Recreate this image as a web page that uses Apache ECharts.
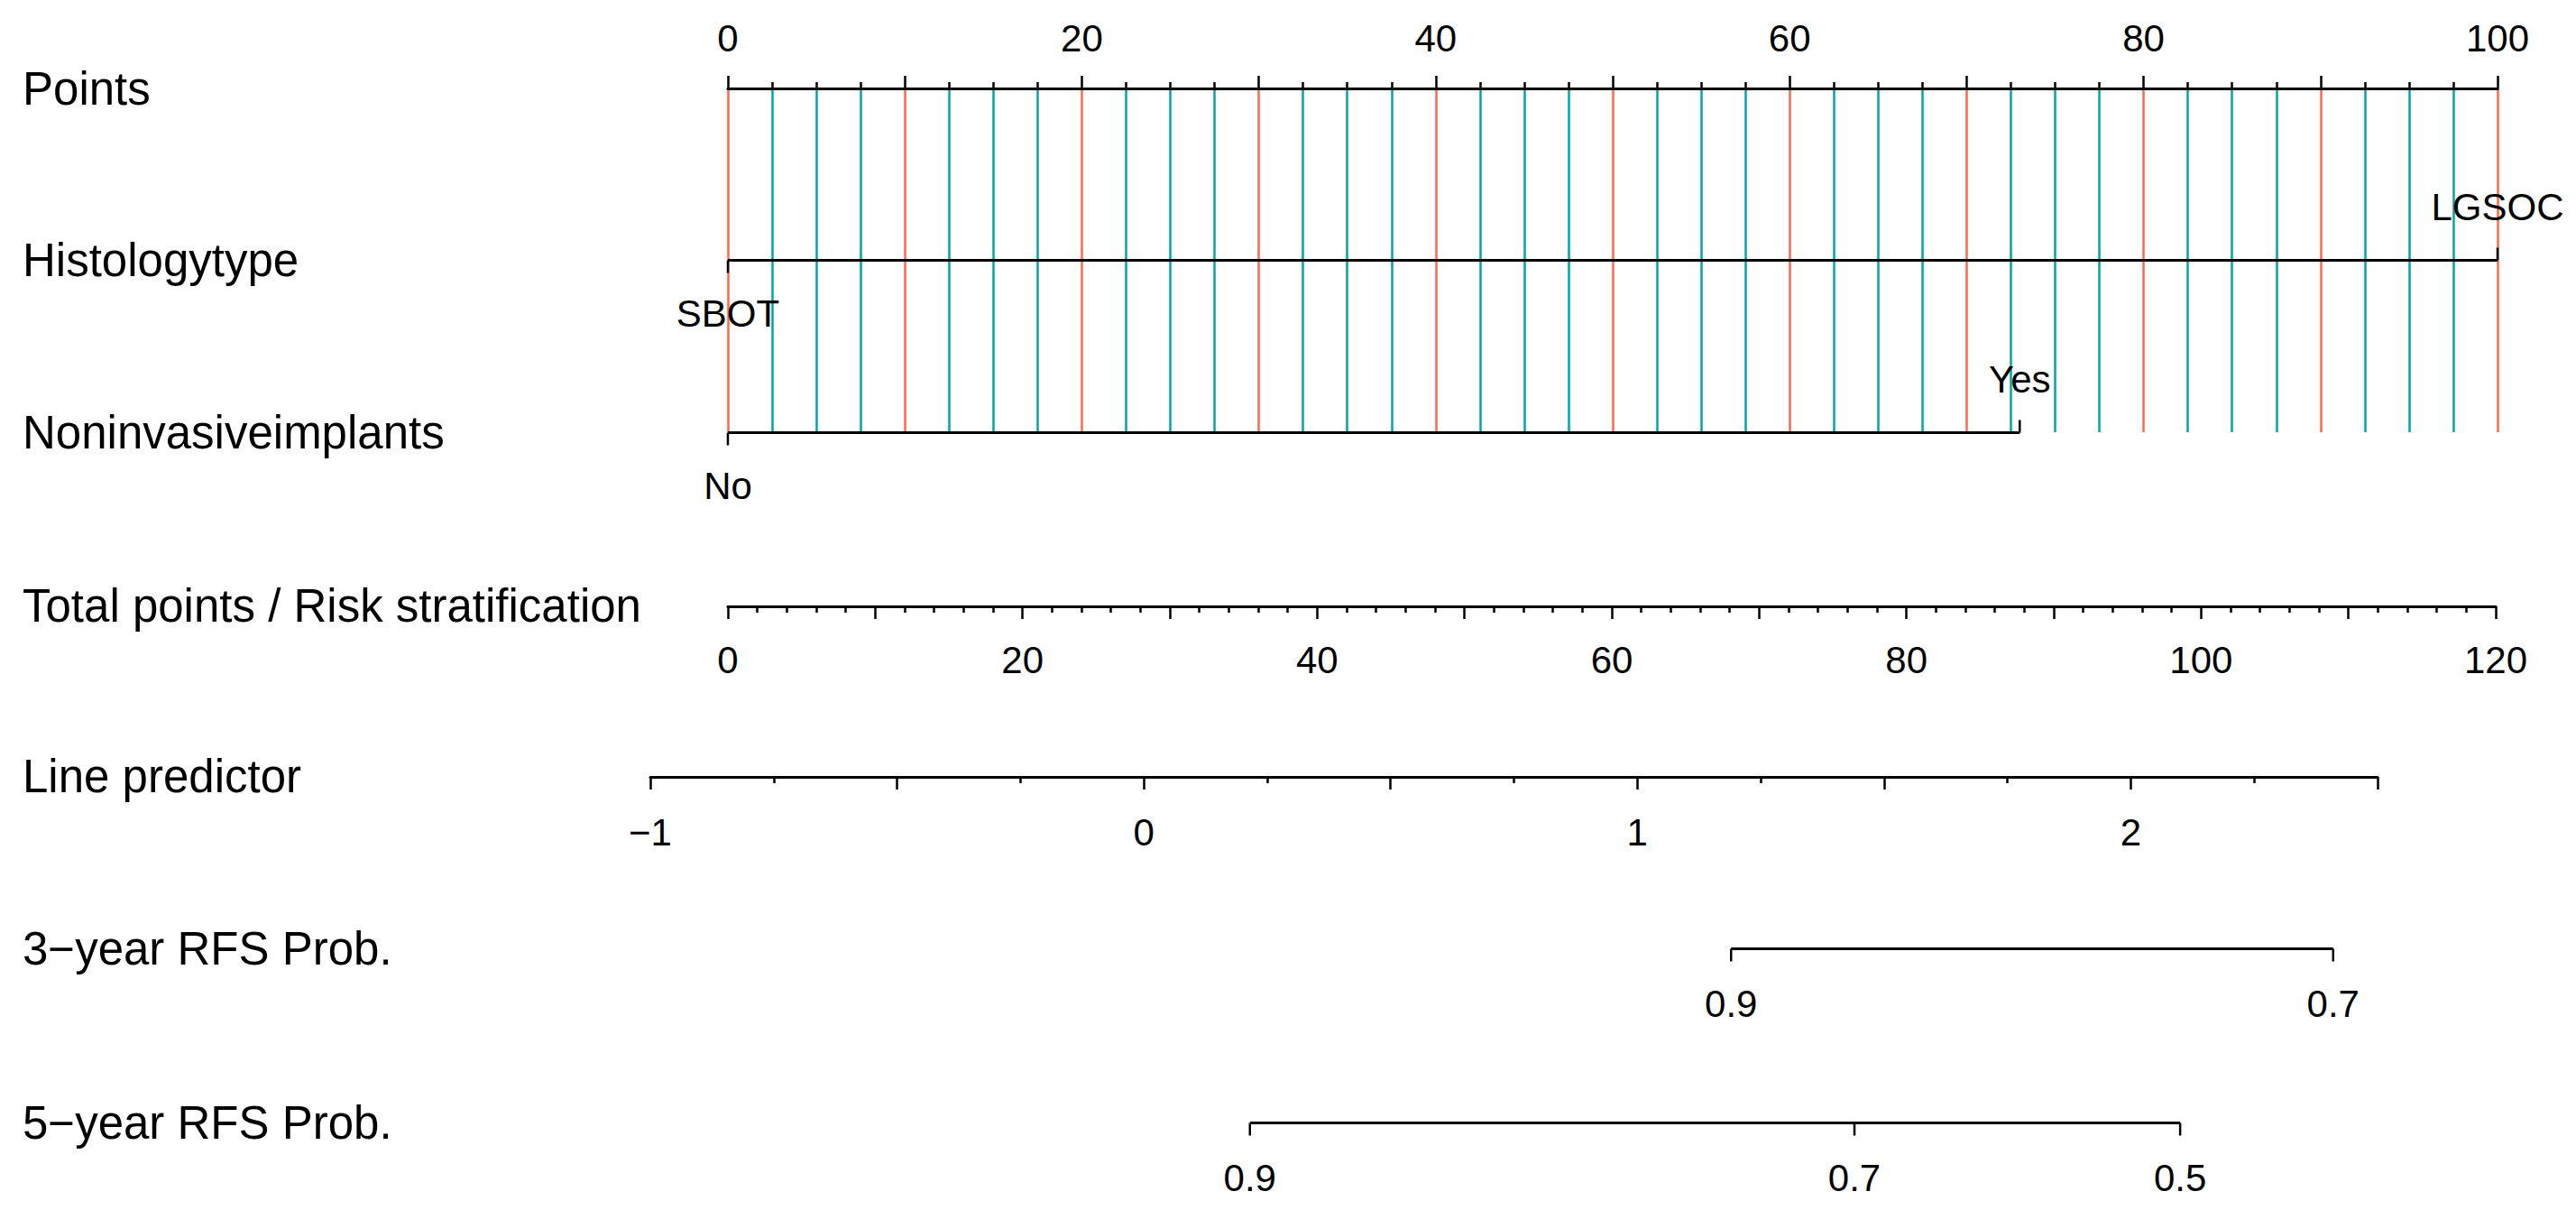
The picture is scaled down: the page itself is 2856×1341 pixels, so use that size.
<!DOCTYPE html>
<html>
<head>
<meta charset="utf-8">
<title>Nomogram - RFS</title>
<script src="https://cdn.jsdelivr.net/npm/echarts@6/dist/echarts.min.js"></script>
<style>
  html, body { margin: 0; padding: 0; background: #fff; }
  #chart { width: 2856px; height: 1341px; }
</style>
</head>
<body>
<div id="chart"></div>
<script>
// row titles, top to bottom
const rowLabels = [
  'Points',
  'Histologytype',
  'Noninvasiveimplants',
  'Total points / Risk stratification',
  'Line predictor',
  '3\u2212year RFS Prob.',
  '5\u2212year RFS Prob.'
];

// axis ranges
const pointsRange = [0, 100];
const totalRange = [0, 120];
const lpRange = [-1, 2.5];

// categorical predictors: points given to each level
const histologyLevels = ['SBOT', 'LGSOC'];
const histologyPoints = [0, 100];
const implantLevels = ['No', 'Yes'];
const implantPoints = [0, 73];

// survival probabilities, placed on the linear predictor scale
const rfs3Labels = ['0.9', '0.7'];
const rfs3Lp = [1.19, 2.41];
const rfs5Labels = ['0.9', '0.7', '0.5'];
const rfs5Lp = [0.215, 1.44, 2.10];

const FONT = '"Liberation Sans", Arial, Helvetica, sans-serif';
const RED = '#FB6A4C';
const TEAL = '#00A6A6';

// layout
const rowY = [98, 288, 479, 671, 860, 1051, 1244];
const PT = { left: 807, right: 87 };
const TP = { left: 807, right: 89 };
const LP = { left: 721, right: 220 };
const rowBox = [PT, PT, PT, TP, LP, LP, LP];

const grid = rowY.map((y, i) => ({ left: rowBox[i].left, right: rowBox[i].right, top: y, height: 1 }));
grid.push({ left: PT.left, right: PT.right, top: rowY[0], height: rowY[2] - rowY[0] }); // guide lines

const yAxis = rowLabels.map((name, i) => ({
  gridIndex: i,
  type: 'category',
  data: [name],
  axisLine: { show: false },
  axisTick: { show: false },
  splitLine: { show: false },
  axisLabel: { align: 'left', margin: rowBox[i].left - 25, fontSize: 51, color: '#000', fontFamily: FONT }
}));
yAxis.push({ gridIndex: 7, type: 'value', show: false, min: 0, max: 1 });

const blackLine = { color: '#000', width: 3 };
const tickStyle = { color: '#000', width: 2.5 };
const hiddenX = (gi, range) => ({ gridIndex: gi, type: 'value', min: range[0], max: range[1], show: false });
const shownX = (gi, range, pos, interval, minorSplit, margin, fmt) => ({
  gridIndex: gi,
  type: 'value',
  position: pos,
  min: range[0],
  max: range[1],
  interval: interval,
  z: 5,
  axisLine: { show: true, lineStyle: blackLine },
  axisTick: { show: true, length: 14, lineStyle: tickStyle },
  minorTick: { show: true, splitNumber: minorSplit, length: 7, lineStyle: tickStyle },
  splitLine: { show: false },
  axisLabel: { margin: margin, fontSize: 42, color: '#000', fontFamily: FONT, formatter: fmt }
});

const every20 = v => (Math.abs(v % 20) < 1e-6 ? String(v) : '');
const integers = v => {
  const r = Math.round(v);
  if (Math.abs(v - r) > 1e-6) return '';
  return r < 0 ? '\u2212' + Math.abs(r) : String(r);
};

const xAxis = [
  shownX(0, pointsRange, 'top', 10, 4, 35, every20),
  hiddenX(1, pointsRange),
  hiddenX(2, pointsRange),
  shownX(3, totalRange, 'bottom', 10, 5, 38, every20),
  shownX(4, lpRange, 'bottom', 0.5, 2, 40, integers),
  hiddenX(5, lpRange),
  hiddenX(6, lpRange),
  {
    gridIndex: 7, type: 'value', min: pointsRange[0], max: pointsRange[1], interval: 10, z: 0,
    axisLine: { show: false }, axisTick: { show: false }, axisLabel: { show: false },
    minorTick: { show: false, splitNumber: 4 },
    splitLine: { show: true, lineStyle: { color: RED, width: 2.5 } },
    minorSplitLine: { show: true, lineStyle: { color: TEAL, width: 2.5 } }
  }
];

function segment(gi, xs) {
  return {
    type: 'line', xAxisIndex: gi, yAxisIndex: gi, silent: true, z: 5,
    data: [[Math.min(...xs), 0], [Math.max(...xs), 0]],
    symbol: 'none',
    lineStyle: blackLine
  };
}

// end ticks with level / probability labels; dirs: 1 = below, -1 = above
function ticks(gi, xs, labels, dirs, offset) {
  return {
    type: 'custom', xAxisIndex: gi, yAxisIndex: gi, silent: true, z: 6,
    data: xs.map(x => [x, 0]),
    renderItem: (params, api) => {
      const p = api.coord([api.value(0), 0]);
      const d = dirs[params.dataIndex];
      return {
        type: 'group',
        children: [
          { type: 'line', shape: { x1: p[0], y1: p[1], x2: p[0], y2: p[1] + d * 14 },
            style: { stroke: '#000', lineWidth: 2.5 } },
          { type: 'text', x: p[0], y: p[1] + d * offset,
            style: { text: labels[params.dataIndex], fill: '#000', fontSize: 42, fontFamily: FONT,
                     align: 'center', verticalAlign: 'middle',
                     textAlign: 'center', textVerticalAlign: 'middle' } }
        ]
      };
    }
  };
}

const series = [
  segment(1, histologyPoints),
  ticks(1, histologyPoints, histologyLevels, [1, -1], 59),
  segment(2, implantPoints),
  ticks(2, implantPoints, implantLevels, [1, -1], 59),
  segment(5, rfs3Lp),
  ticks(5, rfs3Lp, rfs3Labels, rfs3Lp.map(() => 1), 61),
  segment(6, rfs5Lp),
  ticks(6, rfs5Lp, rfs5Labels, rfs5Lp.map(() => 1), 61)
];

const chart = echarts.init(document.getElementById('chart'), null, { renderer: 'svg' });
chart.setOption({
  animation: false,
  backgroundColor: '#fff',
  grid: grid,
  xAxis: xAxis,
  yAxis: yAxis,
  series: series
});
</script>
</body>
</html>
